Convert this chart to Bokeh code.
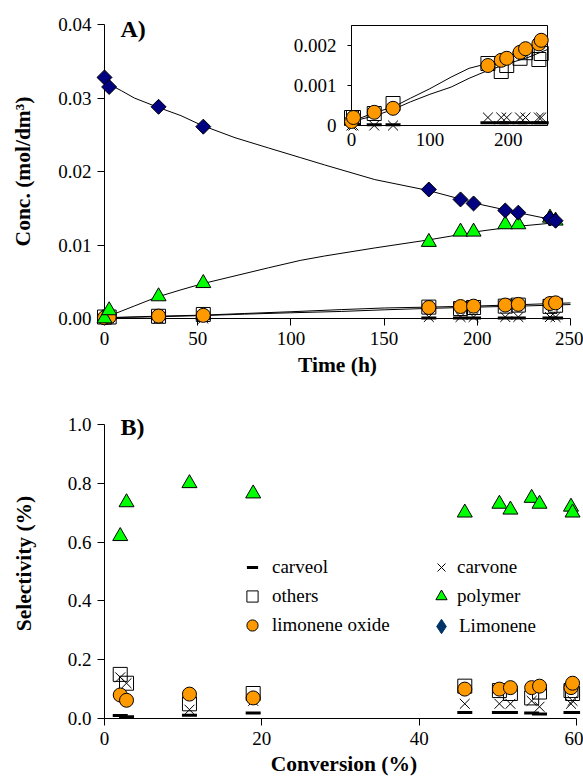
import math
from bokeh.plotting import figure
from bokeh.models import (Range1d, FixedTicker, PrintfTickFormatter, CustomJSTickFormatter,
                          Legend, LegendItem, Label)
from bokeh.embed import file_html
from bokeh.resources import INLINE

NA = float("nan")

# ---------------- Panel A data: concentration vs time ----------------
time_h = [0, 2.5, 29, 53, 174, 191, 198, 215, 222, 239, 242]
conc_limonene = [0.0328, 0.0315, 0.0288, 0.0261, 0.01755, 0.0162, 0.01565, 0.0147, 0.0144, 0.0136, 0.0133]
conc_polymer = [0.0000, 0.0011, 0.0030, 0.0048, 0.0104, 0.0118, 0.0118, 0.0128, 0.0128, 0.0137, 0.0133]
conc_oxide = [0.0001, 0.0002, 0.00033, 0.00043, 0.0015, 0.00163, 0.00168, 0.00183, 0.00192, 0.00204, 0.00213]
conc_others = [0.0002, 0.0002, 0.0003, 0.00055, 0.00155, 0.00135, 0.0015, 0.00168, 0.00182, 0.00165, 0.0018]
conc_carvone = [0.0, 0.0, 0.0, 0.0, 0.0002, 0.0002, 0.0002, 0.0002, 0.0002, 0.0002, 0.0002]
conc_carveol = [0.00003, 0.00003, 0.00002, 0.00002, 0.00007, 0.00007, 0.00007, 0.00007, 0.00007, 0.00007, 0.00007]

# model curves
fit_time = [0, 3, 9, 16, 28, 41, 52, 70, 88, 105, 118, 145, 174, 202, 220, 245]
fit_limonene = [0.0328, 0.0318, 0.0310, 0.0300, 0.0288, 0.0276, 0.0263, 0.0246, 0.0232, 0.0219,
                0.0209, 0.0189, 0.0174, 0.0155, 0.0145, 0.0132]
fit_polymer = [0.0000, 0.0004, 0.0010, 0.0017, 0.0029, 0.0039, 0.0047, 0.0058, 0.0069, 0.0079,
               0.0085, 0.0096, 0.0107, 0.0119, 0.0125, 0.0131]
fit_time_minor = [0, 29, 53, 75, 100, 127, 150, 172, 200, 225, 250]
fit_oxide = [0.0001, 0.00032, 0.00046, 0.00068, 0.00092, 0.00121, 0.00143, 0.00154, 0.00170, 0.00190, 0.00212]
fit_others = [0.0001, 0.00024, 0.00040, 0.00059, 0.00078, 0.00096, 0.00118, 0.00136, 0.00155, 0.00170, 0.00190]

a_xticks = [0, 50, 100, 150, 200, 250]
a_yticks = [0, 0.01, 0.02, 0.03, 0.04]
inset_xticks = [0, 100, 200]
inset_yticks = [0, 0.001, 0.002]

# ---------------- Panel B data: selectivity vs conversion ----------------
conversion = [2.0, 2.8, 10.8, 18.9, 45.8, 50.2, 51.6, 54.3, 55.3, 59.3, 59.5]
sel_polymer = [0.62, 0.735, 0.80, 0.765, 0.70, 0.73, 0.71, 0.75, 0.73, 0.72, 0.70]
sel_others = [0.15, 0.12, 0.05, 0.085, 0.11, 0.095, 0.085, 0.07, 0.09, 0.095, 0.085]
sel_carvone = [0.14, 0.12, 0.03, 0.06, 0.05, 0.05, 0.05, 0.06, 0.04, 0.05, 0.06]
sel_oxide = [0.08, 0.062, 0.083, 0.07, 0.10, 0.10, 0.105, 0.105, 0.11, 0.105, 0.12]
sel_carveol = [0.01, 0.006, 0.011, 0.019, 0.02, 0.02, 0.02, 0.019, 0.015, 0.02, 0.02]
# limonene is the reactant: no selectivity value (legend entry only)
sel_limonene = [NA]

b_xticks = [0, 20, 40, 60]
b_yticks = [0, 0.2, 0.4, 0.6, 0.8, 1.0]

# ---------------- styles ----------------
SERIF = "'Liberation Serif', 'Times New Roman', serif"
ORANGE = "#FF9900"
GREEN = "#00FF00"
NAVY = "#000080"
LEG_NAVY = "#003366"
W = 583
HA = 390
HB = 779 - HA


def rng(px_a, val_a, px_b, val_b, frame_lo, frame_hi):
    k = (val_b - val_a) / (px_b - px_a)
    return Range1d(val_a + (frame_lo - px_a) * k, val_a + (frame_hi - px_a) * k)


def make_fig(height, top, frame, xr, yr, axes=True):
    L, R, T, B = frame
    p = figure(width=W, height=height, output_backend="svg", toolbar_location=None,
               x_range=xr, y_range=yr, min_border_left=L, min_border_right=W - R,
               min_border_top=T, min_border_bottom=height - B,
               x_axis_location="below" if axes else None,
               y_axis_location="left" if axes else None,
               styles={"position": "absolute", "left": "0px", "top": f"{top}px"})
    p.outline_line_color = None
    p.grid.visible = False
    p.background_fill_color = None
    p.border_fill_color = None
    return p


def style_axis(ax, tick_out=7, standoff=6, title_standoff=4, font="19px"):
    ax.axis_line_color = "black"
    ax.axis_line_width = 1
    ax.major_tick_line_color = "black"
    ax.major_tick_out = tick_out
    ax.major_tick_in = 0
    ax.minor_tick_line_color = None
    ax.major_label_text_font = SERIF
    ax.major_label_text_font_size = font
    ax.major_label_text_color = "black"
    ax.major_label_standoff = standoff
    ax.axis_label_text_font = SERIF
    ax.axis_label_text_font_size = "21.5px"
    ax.axis_label_text_font_style = "bold"
    ax.axis_label_text_color = "black"
    ax.axis_label_standoff = title_standoff


def minor_species(p, x, others, carvone, carveol, oxide):
    r1 = p.scatter(x, others, marker="square", size=14, fill_color=None, line_color="black", line_width=1)
    r2 = p.scatter(x, carvone, marker="x", size=14, line_color="black", line_width=1)
    r3 = p.scatter(x, carveol, marker="dash", size=15, line_color="black", line_width=3)
    r4 = p.scatter(x, oxide, marker="circle", size=14, fill_color=ORANGE, line_color="black", line_width=1)
    return r1, r2, r3, r4


# ---------------- Panel A: axes layer ----------------
A_AX = (104, 570, 24, 318)
pA = make_fig(HA, 0, A_AX, Range1d(0, 250), Range1d(0, 0.04))
pA.border_fill_color = "white"
pA.background_fill_color = "white"
pA.xaxis.ticker = FixedTicker(ticks=a_xticks)
pA.xaxis.formatter = PrintfTickFormatter(format="%d")
pA.xaxis.axis_label = "Time (h)"
style_axis(pA.xaxis[0], standoff=6, title_standoff=5)
pA.yaxis.ticker = FixedTicker(ticks=a_yticks)
pA.yaxis.formatter = PrintfTickFormatter(format="%.2f")
pA.yaxis.axis_label = "Conc. (mol/dm³)"
style_axis(pA.yaxis[0], standoff=6, title_standoff=20)

# ---------------- Panel A: data layer (wider frame so edge markers are not cut) ----------------
A_DAT = (92, 580, 8, 330)
pAd = make_fig(HA, 0, A_DAT, rng(104, 0, 570, 250, A_DAT[0], A_DAT[1]),
               rng(318, 0, 24, 0.04, A_DAT[3], A_DAT[2]), axes=False)
for fx, fy in [(fit_time, fit_limonene), (fit_time, fit_polymer),
               (fit_time_minor, fit_oxide), (fit_time_minor, fit_others)]:
    pAd.line(fx, fy, line_color="black", line_width=1)
minor_species(pAd, time_h, conc_others, conc_carvone, conc_carveol, conc_oxide)
pAd.scatter(time_h, conc_polymer, marker="triangle", size=15, fill_color=GREEN, line_color="black")
pAd.scatter(time_h, conc_limonene, marker="square", angle=math.pi / 4, size=10.6,
            fill_color=NAVY, line_color="black")
pAd.add_layout(Label(x=120 - A_DAT[0], y=A_DAT[3] - 28, x_units="screen", y_units="screen",
                     text="A)", text_font=SERIF, text_font_style="bold", text_font_size="24px",
                     text_baseline="middle", text_align="left", text_color="black"))

# ---------------- Inset: axes layer ----------------
I_AX = (351, 547, 25, 125)
pI = make_fig(HA, 0, I_AX, Range1d(0, 250), Range1d(0, 0.0025))
pI.outline_line_color = "black"
pI.xaxis.ticker = FixedTicker(ticks=inset_xticks)
pI.xaxis.formatter = PrintfTickFormatter(format="%d")
style_axis(pI.xaxis[0], tick_out=0, standoff=7)
pI.yaxis.ticker = FixedTicker(ticks=inset_yticks)
pI.yaxis.formatter = CustomJSTickFormatter(code="return tick == 0 ? '0' : tick.toFixed(3);")
style_axis(pI.yaxis[0], tick_out=4, standoff=11)

# ---------------- Inset: data layer ----------------
I_DAT = (340, 557, 18, 134)
pId = make_fig(HA, 0, I_DAT, rng(351, 0, 547, 250, I_DAT[0], I_DAT[1]),
               rng(125, 0, 25, 0.0025, I_DAT[3], I_DAT[2]), axes=False)
pId.line(fit_time_minor, fit_oxide, line_color="black", line_width=1)
pId.line(fit_time_minor, fit_others, line_color="black", line_width=1)
minor_species(pId, time_h, conc_others, conc_carvone, conc_carveol, conc_oxide)

# ---------------- Panel B ----------------
B_L, B_R, B_T, B_B = 104, 583, 408 - HA, 718 - HA   # frame edges (figure px)
pB = make_fig(HB, HA, (B_L, B_R, B_T, B_B), rng(104, 0, 576, 60, B_L, B_R),
              rng(718, 0, 424, 1.0, B_B + HA, B_T + HA))
pB.background_fill_color = "white"
pB.border_fill_color = "white"
pB.xaxis.bounds = (0, 60)
pB.xaxis.ticker = FixedTicker(ticks=b_xticks)
pB.xaxis.formatter = PrintfTickFormatter(format="%d")
pB.xaxis.axis_label = "Conversion (%)"
style_axis(pB.xaxis[0], standoff=6, title_standoff=4)
pB.yaxis.bounds = (0, 1.0)
pB.yaxis.ticker = FixedTicker(ticks=b_yticks)
pB.yaxis.formatter = PrintfTickFormatter(format="%.1f")
pB.yaxis.axis_label = "Selectivity (%)"
style_axis(pB.yaxis[0], standoff=6, title_standoff=29)

rb_others, rb_carvone, rb_carveol, rb_oxide = minor_species(
    pB, conversion, sel_others, sel_carvone, sel_carveol, sel_oxide)
rb_polymer = pB.scatter(conversion, sel_polymer, marker="triangle", size=15, fill_color=GREEN,
                        line_color="black")
rb_limonene = pB.scatter(sel_limonene, sel_limonene, marker="diamond", size=14,
                         fill_color=LEG_NAVY, line_color=LEG_NAVY)

pB.add_layout(Label(x=120 - B_L, y=718 - 426, x_units="screen", y_units="screen", text="B)",
                    text_font=SERIF, text_font_style="bold", text_font_size="24px",
                    text_baseline="middle", text_align="left", text_color="black"))


def make_legend(items, x_px, y_bottom_px, box, standoff):
    lg = Legend(items=items, location=(x_px - B_L, 718 - y_bottom_px), orientation="vertical",
                glyph_width=box, glyph_height=box, label_height=box, spacing=1, padding=0,
                margin=0, label_standoff=standoff, border_line_color=None,
                background_fill_alpha=0, label_text_font=SERIF, label_text_font_size="19px",
                label_text_color="black")
    pB.add_layout(lg)


make_legend([LegendItem(label="carveol", renderers=[rb_carveol]),
             LegendItem(label="others", renderers=[rb_others]),
             LegendItem(label="limonene oxide", renderers=[rb_oxide])], 238, 639, 28, 6)
make_legend([LegendItem(label="carvone", renderers=[rb_carvone]),
             LegendItem(label="polymer", renderers=[rb_polymer])], 427, 610, 28, 2)
make_legend([LegendItem(label="Limonene", renderers=[rb_limonene])], 423, 644, 36, 0)

open("out.html", "w").write(file_html([pA, pAd, pI, pId, pB], INLINE))
